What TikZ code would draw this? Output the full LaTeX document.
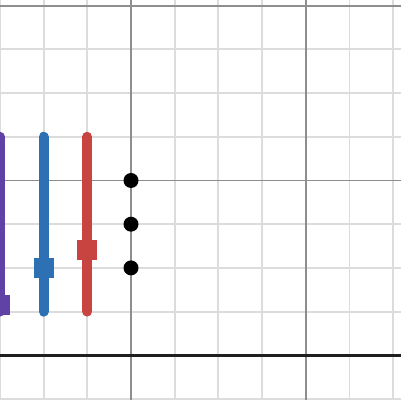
\documentclass[tikz,border=0pt]{standalone}
\usetikzlibrary{calc}
\definecolor{dpurple}{HTML}{6042A6}
\definecolor{dblue}{HTML}{2D70B3}
\definecolor{dred}{HTML}{C74440}
\definecolor{minorgrid}{HTML}{DCDCDC}
\definecolor{majorgrid}{HTML}{8E8E8E}
\begin{document}
\begin{tikzpicture}[x=43.7pt,y=43.7pt,
  minorline/.style={draw=minorgrid,line width=1.9pt},
  majorline/.style={draw=majorgrid,line width=1.9pt},
  axisline/.style={draw=black!88,line width=3pt},
  bar/.style={line width=10pt,line cap=round},
  marker/.style={rectangle,minimum size=20pt,inner sep=0pt},
  dot/.style={circle,fill=black,minimum size=15pt,inner sep=0pt}]
\useasboundingbox (-2.9977,-5.0229) rectangle (6.1556,4.1304);
\fill[white] (-2.9977,-5.0229) rectangle (6.1556,4.1304);
% minor grid
\foreach \i in {-3,-2,-1,1,2,3,5,6}
  \draw[minorline] (\i,-5.1) -- (\i,4.2);
\foreach \j in {-5,-3,-2,-1,1,2,3}
  \draw[minorline] (-3.1,\j) -- (6.2,\j);
% major grid
\foreach \i in {0,4}
  \draw[majorline] (\i,-5.1) -- (\i,4.2);
\foreach \j in {0,4}
  \draw[majorline] (-3.1,\j) -- (6.2,\j);
% thick line
\draw[axisline] (-3.1,-4) -- (6.2,-4);
% bars
\coordinate (pt) at (-3,1); \coordinate (pb) at (-3,-3);
\coordinate (bt) at (-2,1); \coordinate (bb) at (-2,-3);
\coordinate (rt) at (-1,1); \coordinate (rb) at (-1,-3);
\draw[bar,dpurple] (pt) -- (pb);
\draw[bar,dblue] (bt) -- (bb);
\draw[bar,dred] (rt) -- (rb);
\node[marker,fill=dpurple] (pm) at (-3,-2.85) {};
\node[marker,fill=dblue] (bm) at (-2,-2) {};
\node[marker,fill=dred] (rm) at (-1,-1.6) {};
% dots
\node[dot] (d0) at (0,0) {};
\node[dot] (d1) at (0,-1) {};
\node[dot] (d2) at (0,-2) {};
\end{tikzpicture}
\end{document}
